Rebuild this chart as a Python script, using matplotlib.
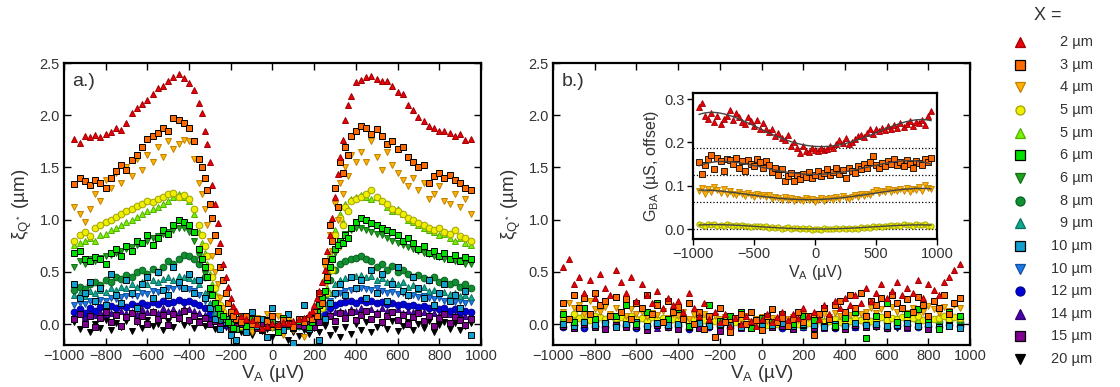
import numpy as np
import matplotlib
matplotlib.use("Agg")
import matplotlib.pyplot as plt

plt.rcParams['font.family'] = ['Liberation Sans', 'DejaVu Sans']
plt.rcParams['mathtext.fontset'] = 'custom'
plt.rcParams['mathtext.rm'] = 'Liberation Sans'
plt.rcParams['mathtext.it'] = 'Liberation Sans'
plt.rcParams['mathtext.default'] = 'regular'

# bias grid (uV)
va = np.arange(-950, 951, 25)
vb = np.arange(-950, 951, 50)
# extra samples on the steep flanks of panel a
ve = [-337.5, -312.5, -287.5, -262.5, -237.5, -212.5, -187.5,
      187.5, 212.5, 237.5, 262.5, 287.5, 312.5, 337.5, 362.5]

labels = ['2 µm', '3 µm', '4 µm', '5 µm', '5 µm', '6 µm', '6 µm', '8 µm',
          '9 µm', '10 µm', '10 µm', '12 µm', '14 µm', '15 µm', '20 µm']

# ---- panel a: xi_Q* (um) vs V_A ----
a_2 = [1.77, 1.73, 1.80, 1.79, 1.81, 1.79, 1.82, 1.84, 1.88, 1.86, 1.93,
       2.02, 2.07, 2.11, 2.15, 2.20, 2.26, 2.28, 2.33, 2.37, 2.39, 2.36,
       2.31, 2.24, 2.12, 1.85, 1.55, 1.15, 0.78, 0.45, 0.25, 0.13, 0.08,
       0.05, 0.04, 0.00, -0.04, -0.02, 0.01, 0.00, 0.02, 0.01, 0.03, 0.05,
       0.06, 0.10, 0.18, 0.32, 0.52, 0.85, 1.22, 1.60, 1.95, 2.18, 2.32,
       2.34, 2.37, 2.38, 2.35, 2.33, 2.33, 2.28, 2.22, 2.20, 2.10, 2.05,
       1.98, 1.94, 1.90, 1.88, 1.85, 1.85, 1.83, 1.80, 1.82, 1.76, 1.77]
a_3 = [1.34, 1.40, 1.37, 1.33, 1.38, 1.35, 1.30, 1.40, 1.47, 1.52, 1.48,
       1.57, 1.62, 1.70, 1.77, 1.80, 1.83, 1.88, 1.85, 1.97, 1.95, 1.93,
       1.88, 1.75, 1.58, 1.40, 1.15, 0.85, 0.55, 0.30, 0.12, 0.05, 0.02,
       0.08, 0.00, 0.05, -0.05, 0.03, 0.08, -0.02, 0.04, 0.00, -0.03, 0.05,
       0.02, 0.06, 0.12, 0.30, 0.60, 0.95, 1.30, 1.55, 1.70, 1.80, 1.85,
       1.90, 1.88, 1.82, 1.87, 1.80, 1.72, 1.75, 1.68, 1.70, 1.60, 1.55,
       1.50, 1.52, 1.35, 1.42, 1.45, 1.40, 1.43, 1.38, 1.35, 1.30, 1.28]
a_4 = [1.12, 1.05, 0.98, 1.10, 1.25, 1.18, 1.38, 1.30, 1.45, 1.35, 1.50,
       1.42, 1.58, 1.48, 1.62, 1.55, 1.70, 1.60, 1.75, 1.68, 1.72, 1.76,
       1.75, 1.58, 1.35, 1.10, 0.80, 0.50, 0.25, 0.08, 0.00, -0.05, 0.05,
       0.02, -0.08, 0.06, 0.00, 0.10, -0.04, 0.08, -0.10, 0.05, -0.06, 0.02,
       -0.12, 0.05, 0.10, 0.25, 0.55, 0.85, 1.15, 1.35, 1.50, 1.62, 1.55,
       1.65, 1.55, 1.75, 1.60, 1.48, 1.65, 1.52, 1.45, 1.38, 1.32, 1.40,
       1.28, 1.35, 1.20, 1.25, 1.32, 1.18, 1.15, 1.25, 1.12, 1.20, 1.05]
a_5c = [0.80, 0.85, 0.88, 0.84, 0.92, 0.95, 0.98, 1.00, 1.03, 1.05, 1.08,
        1.10, 1.13, 1.15, 1.18, 1.17, 1.20, 1.22, 1.25, 1.26, 1.22, 1.24,
        1.20, 1.10, 0.95, 0.75, 0.55, 0.35, 0.18, 0.08, 0.02, 0.00, -0.02,
        -0.03, 0.00, 0.02, -0.04, 0.01, 0.03, -0.02, 0.00, 0.04, -0.01, 0.02,
        0.00, 0.04, 0.10, 0.22, 0.40, 0.62, 0.85, 1.02, 1.12, 1.18, 1.20,
        1.22, 1.25, 1.28, 1.22, 1.18, 1.15, 1.10, 1.08, 1.05, 1.02, 1.00,
        0.97, 0.95, 0.92, 0.90, 0.92, 0.88, 0.86, 0.90, 0.84, 0.82, 0.80]
a_5t = [0.76, 0.78, 0.80, 0.82, 0.80, 0.85, 0.86, 0.90, 0.92, 0.95, 0.98,
        1.00, 1.03, 1.05, 1.08, 1.10, 1.12, 1.15, 1.18, 1.22, 1.25, 1.22,
        1.18, 1.05, 0.88, 0.68, 0.48, 0.30, 0.15, 0.06, 0.00, -0.03, -0.02,
        -0.04, -0.02, 0.00, -0.03, 0.02, 0.00, -0.02, 0.01, 0.00, 0.02, 0.00,
        0.02, 0.05, 0.12, 0.25, 0.45, 0.68, 0.90, 1.05, 1.15, 1.20, 1.22,
        1.24, 1.22, 1.20, 1.22, 1.18, 1.12, 1.08, 1.10, 1.05, 1.00, 0.98,
        0.95, 0.92, 0.90, 0.88, 0.85, 0.86, 0.82, 0.80, 0.82, 0.78, 0.76]
a_6s = [0.68, 0.70, 0.62, 0.60, 0.64, 0.62, 0.58, 0.68, 0.72, 0.65, 0.75,
        0.70, 0.80, 0.78, 0.85, 0.76, 0.82, 0.90, 0.86, 0.95, 1.00, 0.98,
        0.95, 0.88, 0.72, 0.55, 0.35, 0.20, 0.10, 0.05, 0.00, -0.05, 0.08,
        -0.02, 0.05, 0.00, -0.06, 0.04, 0.02, -0.08, 0.06, 0.00, -0.04, 0.03,
        0.05, -0.03, 0.08, 0.18, 0.32, 0.55, 0.72, 0.80, 0.85, 0.92, 0.98,
        1.02, 1.00, 0.97, 0.95, 0.92, 0.90, 0.88, 0.85, 0.80, 0.82, 0.78,
        0.72, 0.75, 0.68, 0.70, 0.65, 0.68, 0.62, 0.66, 0.60, 0.64, 0.62]
a_6t = [0.55, 0.60, 0.58, 0.62, 0.60, 0.63, 0.65, 0.66, 0.68, 0.70, 0.72,
        0.74, 0.76, 0.78, 0.80, 0.82, 0.84, 0.86, 0.88, 0.90, 0.92, 0.92,
        0.88, 0.80, 0.65, 0.48, 0.30, 0.16, 0.07, 0.02, -0.02, -0.04, -0.03,
        -0.05, -0.03, -0.04, -0.02, -0.03, 0.00, -0.02, -0.04, -0.02, -0.03, -0.01,
        0.00, 0.02, 0.06, 0.15, 0.30, 0.50, 0.68, 0.80, 0.86, 0.90, 0.92,
        0.92, 0.90, 0.88, 0.86, 0.85, 0.82, 0.80, 0.78, 0.76, 0.74, 0.72,
        0.70, 0.68, 0.67, 0.65, 0.64, 0.62, 0.62, 0.60, 0.61, 0.58, 0.58]
a_8 = [0.33, 0.36, 0.34, 0.38, 0.40, 0.37, 0.42, 0.40, 0.45, 0.43, 0.47,
       0.45, 0.50, 0.52, 0.48, 0.53, 0.50, 0.55, 0.60, 0.58, 0.62, 0.66,
       0.65, 0.62, 0.58, 0.45, 0.32, 0.20, 0.10, 0.05, 0.00, -0.03, -0.02,
       -0.04, -0.02, 0.00, -0.03, -0.01, 0.00, -0.02, -0.01, 0.01, -0.02, 0.00,
       0.00, 0.03, 0.06, 0.15, 0.28, 0.42, 0.52, 0.58, 0.60, 0.62, 0.63,
       0.65, 0.62, 0.60, 0.55, 0.58, 0.52, 0.56, 0.50, 0.52, 0.48, 0.45,
       0.47, 0.44, 0.42, 0.45, 0.40, 0.42, 0.38, 0.40, 0.36, 0.38, 0.35]
a_9 = [0.28, 0.30, 0.27, 0.32, 0.30, 0.33, 0.31, 0.35, 0.33, 0.36, 0.35,
       0.38, 0.36, 0.40, 0.38, 0.42, 0.40, 0.43, 0.45, 0.42, 0.46, 0.45,
       0.44, 0.42, 0.38, 0.30, 0.20, 0.12, 0.06, 0.02, -0.02, -0.04, -0.03,
       -0.04, -0.03, -0.02, -0.04, -0.02, -0.03, -0.01, -0.03, -0.02, -0.01, -0.02,
       0.00, 0.02, 0.05, 0.10, 0.20, 0.30, 0.38, 0.42, 0.44, 0.45, 0.46,
       0.47, 0.45, 0.46, 0.42, 0.44, 0.40, 0.42, 0.38, 0.40, 0.36, 0.37,
       0.34, 0.36, 0.32, 0.33, 0.30, 0.31, 0.29, 0.30, 0.27, 0.28, 0.26]
a_10s = [0.38, 0.25, 0.30, 0.40, 0.22, 0.35, 0.18, 0.48, 0.28, 0.20, 0.42,
         0.30, 0.15, 0.38, 0.45, 0.25, 0.50, 0.33, 0.28, 0.55, 0.40, 0.35,
         0.48, 0.30, 0.42, 0.25, 0.15, 0.05, -0.05, 0.02, -0.10, -0.15, 0.08,
         -0.08, 0.12, -0.02, 0.05, -0.12, 0.15, 0.00, -0.06, 0.10, -0.18, 0.04,
         0.18, -0.05, 0.12, -0.15, 0.05, 0.20, 0.30, 0.38, 0.28, 0.45, 0.35,
         0.42, 0.25, 0.52, 0.30, 0.48, 0.22, 0.38, 0.55, 0.32, 0.28, 0.45,
         0.35, 0.25, 0.42, 0.18, 0.30, 0.38, 0.22, 0.28, 0.15, 0.32, -0.10]
a_10t = [0.18, 0.20, 0.19, 0.22, 0.21, 0.23, 0.22, 0.25, 0.24, 0.26, 0.27,
         0.28, 0.27, 0.30, 0.29, 0.32, 0.31, 0.33, 0.35, 0.34, 0.36, 0.35,
         0.34, 0.32, 0.28, 0.22, 0.15, 0.08, 0.03, 0.00, -0.02, -0.03, -0.02,
         -0.03, -0.02, -0.03, -0.02, -0.01, -0.03, -0.02, -0.01, -0.02, -0.03, -0.01,
         0.00, 0.02, 0.04, 0.08, 0.15, 0.22, 0.28, 0.30, 0.32, 0.33, 0.34,
         0.35, 0.34, 0.33, 0.35, 0.32, 0.30, 0.31, 0.29, 0.30, 0.27, 0.28,
         0.26, 0.27, 0.25, 0.24, 0.25, 0.22, 0.23, 0.21, 0.22, 0.20, 0.21]
a_12 = [0.12, 0.14, 0.11, 0.15, 0.13, 0.16, 0.14, 0.17, 0.15, 0.18, 0.16,
        0.19, 0.17, 0.20, 0.18, 0.21, 0.19, 0.22, 0.20, 0.21, 0.23, 0.21,
        0.22, 0.20, 0.18, 0.15, 0.10, 0.05, 0.02, 0.00, -0.02, -0.03, -0.02,
        -0.03, -0.02, -0.03, -0.02, -0.01, -0.02, -0.03, -0.02, -0.01, -0.02, -0.02,
        -0.01, 0.00, 0.03, 0.06, 0.10, 0.15, 0.18, 0.20, 0.21, 0.22, 0.20,
        0.23, 0.21, 0.22, 0.20, 0.21, 0.19, 0.20, 0.18, 0.19, 0.17, 0.18,
        0.16, 0.17, 0.15, 0.16, 0.14, 0.15, 0.13, 0.14, 0.12, 0.13, 0.12]
a_14 = [0.08, 0.10, 0.07, 0.11, 0.09, 0.12, 0.10, 0.11, 0.09, 0.13, 0.11,
        0.12, 0.10, 0.14, 0.12, 0.13, 0.11, 0.15, 0.13, 0.14, 0.12, 0.15,
        0.14, 0.13, 0.11, 0.09, 0.06, 0.03, 0.01, -0.01, -0.02, -0.03, -0.02,
        -0.03, -0.02, -0.03, -0.01, -0.02, -0.03, -0.02, -0.01, -0.02, -0.03, -0.02,
        -0.01, 0.00, 0.02, 0.04, 0.07, 0.10, 0.12, 0.13, 0.12, 0.14, 0.13,
        0.15, 0.13, 0.14, 0.12, 0.15, 0.13, 0.12, 0.14, 0.11, 0.13, 0.12,
        0.11, 0.12, 0.10, 0.11, 0.09, 0.12, 0.10, 0.09, 0.11, 0.08, 0.10]
a_15 = [0.05, 0.10, 0.00, 0.08, -0.03, 0.06, 0.12, 0.02, 0.09, -0.02, 0.07,
        0.11, 0.03, 0.08, 0.00, 0.12, 0.05, 0.09, -0.01, 0.10, 0.06, 0.13,
        0.04, 0.08, 0.02, 0.06, 0.00, 0.03, -0.02, 0.01, -0.04, -0.02, 0.00,
        -0.03, 0.01, -0.04, -0.01, -0.03, 0.00, -0.02, -0.04, 0.01, -0.03, -0.01,
        -0.02, 0.01, -0.03, 0.02, 0.05, 0.08, 0.03, 0.11, 0.06, 0.12, 0.04,
        0.09, 0.13, 0.05, 0.10, 0.02, 0.08, 0.12, 0.04, 0.09, 0.00, 0.07,
        0.11, 0.03, 0.08, -0.02, 0.06, 0.10, 0.01, 0.07, 0.04, -0.01, 0.05]
a_20 = [0.02, -0.05, 0.03, -0.08, 0.00, -0.04, 0.04, -0.06, 0.01, -0.03, 0.03,
        -0.07, 0.02, -0.04, 0.04, -0.02, 0.00, -0.06, 0.03, -0.03, 0.05, -0.01,
        0.02, -0.04, 0.03, -0.02, 0.01, -0.05, 0.00, -0.03, -0.06, -0.02, -0.08,
        -0.04, -0.10, -0.03, -0.07, -0.05, -0.12, -0.06, -0.09, -0.15, -0.08, -0.11,
        -0.06, -0.09, -0.04, -0.08, -0.02, -0.10, -0.05, -0.12, -0.03, -0.09, 0.00,
        -0.06, 0.02, -0.08, -0.03, 0.01, -0.05, 0.03, -0.07, -0.02, 0.02, -0.06,
        0.00, -0.04, 0.03, -0.08, -0.01, 0.02, -0.05, 0.01, -0.06, -0.02, 0.01]

# flank samples (at ve) for the upper curves of panel a
e_2 = [2.02, 1.72, 1.33, 0.97, 0.58, 0.36, 0.17, 0.13, 0.25, 0.40, 0.70, 1.02, 1.44, 1.76, 2.10]
e_3 = [1.50, 1.28, 1.02, 0.70, 0.42, 0.20, 0.08, 0.05, 0.08, 0.20, 0.45, 0.80, 1.12, 1.45, 1.62]
e_4 = [1.25, 0.95, 0.65, 0.38, 0.15, 0.04, -0.02, 0.00, 0.06, 0.18, 0.40, 0.70, 1.00, 1.25, 1.42]
e_5c = [0.85, 0.65, 0.45, 0.26, 0.12, 0.04, 0.01, 0.02, 0.06, 0.15, 0.30, 0.52, 0.74, 0.95, 1.08]
e_5t = [0.78, 0.58, 0.38, 0.22, 0.10, 0.03, -0.01, 0.03, 0.08, 0.18, 0.35, 0.56, 0.80, 0.98, 1.10]
e_6s = [0.62, 0.45, 0.28, 0.15, 0.08, 0.02, -0.04, 0.02, 0.12, 0.25, 0.42, 0.62, 0.76, 0.78, 0.82]

# ---- panel b ----
b_2 = [0.55, 0.62, 0.38, 0.45, 0.30, 0.42, 0.25, 0.48, 0.35, 0.28, 0.52,
       0.40, 0.30, 0.45, 0.22, 0.38, 0.28, 0.20, 0.32, 0.15, 0.25, 0.18,
       0.22, 0.12, 0.30, 0.15, 0.08, 0.20, 0.05, 0.12, 0.02, 0.10, -0.02,
       0.06, 0.00, 0.08, 0.03, -0.02, 0.05, 0.10, 0.02, 0.07, 0.12, 0.04,
       0.10, 0.06, 0.15, 0.08, 0.12, 0.05, 0.18, 0.10, 0.22, 0.15, 0.25,
       0.18, 0.28, 0.20, 0.35, 0.22, 0.30, 0.38, 0.25, 0.32, 0.40, 0.28,
       0.35, 0.30, 0.42, 0.25, 0.38, 0.33, 0.28, 0.40, 0.45, 0.52, 0.58]
b_3 = [0.20, 0.05, 0.28, 0.15, 0.25, 0.10, 0.30, 0.18, 0.22, 0.08, 0.26,
       0.12, 0.24, 0.05, 0.20, 0.15, 0.28, 0.10, 0.18, 0.02, 0.22, 0.12,
       0.16, 0.05, 0.20, 0.00, 0.12, -0.05, 0.08, -0.12, 0.15, 0.02, -0.08,
       0.06, 0.10, 0.00, 0.12, 0.04, -0.06, 0.08, 0.14, 0.02, 0.06, -0.02,
       0.05, 0.12, 0.02, 0.08, -0.10, 0.10, 0.15, 0.05, 0.18, 0.22, 0.12,
       0.28, 0.15, 0.30, 0.08, 0.22, 0.18, 0.25, 0.10, 0.28, 0.20, 0.15,
       0.24, 0.12, 0.26, 0.18, 0.08, 0.22, 0.15, 0.28, 0.10, 0.20, 0.25]
b_4 = [0.12, 0.20, 0.15, 0.18, 0.10, 0.22, 0.14, 0.12, 0.16, 0.10, 0.15,
       0.12, 0.08, 0.14, 0.10, 0.12, 0.07, 0.11, 0.09, 0.13, 0.06, 0.10,
       0.08, 0.12, 0.05, 0.09, 0.06, 0.10, 0.04, 0.08, 0.05, 0.07, 0.03,
       0.06, 0.04, 0.08, 0.02, 0.05, 0.07, 0.03, 0.06, 0.04, 0.08, 0.05,
       0.07, 0.04, 0.09, 0.06, 0.08, 0.05, 0.10, 0.07, 0.11, 0.08, 0.12,
       0.09, 0.13, 0.10, 0.12, 0.15, 0.11, 0.14, 0.10, 0.16, 0.12, 0.14,
       0.11, 0.15, 0.13, 0.12, 0.17, 0.14, 0.11, 0.16, 0.13, 0.18, 0.15]
b_5c = [0.08, 0.05, 0.10, 0.06, 0.09, 0.04, 0.08, 0.07, 0.05, 0.09, 0.06,
        0.07, 0.04, 0.08, 0.05, 0.06, 0.03, 0.07, 0.04, 0.06, 0.02, 0.05,
        0.04, 0.06, 0.02, 0.05, 0.03, 0.04, 0.01, 0.03, 0.02, 0.04, 0.00,
        0.02, 0.03, 0.00, 0.02, 0.01, 0.03, -0.01, 0.02, 0.00, 0.03, 0.01,
        0.02, 0.00, 0.03, 0.01, 0.02, 0.04, 0.02, 0.03, 0.05, 0.02, 0.04,
        0.03, 0.05, 0.04, 0.06, 0.03, 0.05, 0.07, 0.04, 0.06, 0.05, 0.07,
        0.05, 0.06, 0.08, 0.04, 0.07, 0.05, 0.06, 0.08, 0.05, 0.07, 0.06]
b_5t = [0.06, 0.08, 0.05, 0.07, 0.04, 0.06, 0.05, 0.07, 0.03, 0.05,
        0.04, 0.06, 0.03, 0.04, 0.02, 0.03, 0.01, 0.02, 0.00, 0.02,
        0.01, 0.02, 0.03, 0.01, 0.03, 0.04, 0.02, 0.04, 0.05, 0.03,
        0.05, 0.04, 0.06, 0.05, 0.04, 0.06, 0.05, 0.07, 0.06]
b_6s = [0.10, 0.02, 0.15, 0.05, 0.22, 0.08, 0.18, 0.00, 0.12, 0.20,
        0.05, 0.14, -0.02, 0.10, 0.18, 0.03, 0.08, 0.12, -0.04, 0.06,
        0.02, 0.10, 0.00, 0.08, 0.04, 0.15, -0.02, 0.06, 0.12, -0.13,
        0.08, 0.20, 0.02, 0.10, 0.14, 0.05, -0.05, 0.12, 0.08]
b_6t = [0.03, 0.05, 0.02, 0.04, 0.01, 0.03, 0.02, 0.04, 0.01, 0.03,
        0.02, 0.00, 0.03, 0.01, 0.02, 0.00, 0.01, -0.01, 0.01, 0.00,
        0.01, -0.01, 0.02, 0.00, 0.01, 0.02, 0.00, 0.02, 0.01, 0.03,
        0.02, 0.01, 0.03, 0.02, 0.04, 0.02, 0.03, 0.04, 0.02]
b_8 = [0.02, 0.04, 0.01, 0.03, 0.02, 0.04, 0.00, 0.02, 0.03, 0.01,
       0.02, 0.00, 0.01, 0.02, 0.00, 0.01, -0.01, 0.01, 0.00, -0.01,
       0.00, 0.01, -0.01, 0.01, 0.00, 0.02, 0.01, 0.00, 0.02, 0.01,
       0.03, 0.02, 0.01, 0.03, 0.02, 0.04, 0.02, 0.03, 0.02]
b_9 = [0.01, 0.00, 0.02, -0.01, 0.01, 0.00, 0.02, 0.00, -0.01, 0.01,
       0.00, -0.01, 0.01, 0.00, -0.02, 0.00, -0.01, 0.00, -0.02, -0.01,
       0.00, -0.01, 0.00, -0.02, 0.00, -0.01, 0.01, 0.00, -0.01, 0.00,
       0.01, 0.00, 0.02, -0.01, 0.00, 0.01, -0.01, 0.00, -0.02]
b_10s = [0.00, -0.02, 0.02, -0.01, 0.01, -0.03, 0.00, 0.02, -0.02, 0.01,
         -0.01, 0.00, -0.03, 0.01, -0.02, 0.00, -0.01, -0.03, 0.00, -0.02,
         -0.01, 0.01, -0.02, 0.00, -0.01, -0.03, 0.00, -0.02, 0.01, -0.01,
         0.00, -0.02, -0.01, 0.01, -0.02, 0.00, -0.03, -0.02, -0.04]
b_10t = [-0.01, 0.00, -0.02, -0.01, 0.00, -0.02, -0.01, -0.03, 0.00, -0.01,
         -0.02, -0.01, 0.00, -0.02, -0.01, -0.03, -0.01, -0.02, 0.00, -0.01,
         -0.02, -0.01, -0.03, -0.01, 0.00, -0.02, -0.01, -0.02, 0.00, -0.01,
         -0.02, 0.00, -0.01, -0.02, -0.01, -0.03, -0.01, -0.02, -0.03]
b_12 = [-0.03, -0.01, -0.04, -0.02, -0.03, -0.01, -0.02, -0.04, -0.02, -0.01,
        -0.03, -0.02, -0.05, -0.01, -0.03, -0.02, -0.04, -0.02, -0.01, -0.03,
        -0.02, -0.04, -0.01, -0.03, -0.02, -0.01, -0.04, -0.02, -0.03, -0.01,
        -0.02, -0.04, -0.02, -0.01, -0.03, -0.02, -0.03, -0.01, -0.02]
b_14 = [-0.02, -0.03, -0.01, -0.02, -0.04, -0.02, -0.01, -0.03, -0.02, -0.04,
        -0.01, -0.02, -0.03, -0.02, -0.01, -0.03, -0.02, -0.04, -0.02, -0.01,
        -0.03, -0.02, -0.01, -0.03, -0.02, -0.04, -0.02, -0.01, -0.03, -0.02,
        -0.01, -0.03, -0.02, -0.04, -0.02, -0.01, -0.03, -0.02, -0.02]
b_15 = [-0.02, -0.04, 0.00, -0.03, -0.05, -0.01, -0.03, -0.02, -0.06, -0.01,
        -0.03, -0.05, -0.02, -0.04, -0.01, -0.07, -0.03, -0.02, -0.04, -0.01,
        -0.03, -0.02, -0.05, -0.01, -0.04, -0.02, -0.03, -0.05, -0.01, -0.03,
        -0.02, -0.04, -0.01, -0.03, -0.02, -0.05, -0.03, -0.01, -0.03]
b_20 = [-0.02, -0.01, -0.03, -0.02, -0.04, -0.01, -0.02, -0.03, -0.01, -0.02,
        -0.03, -0.02, -0.01, -0.03, -0.02, -0.04, -0.02, -0.01, -0.03, -0.02,
        -0.02, -0.03, -0.01, -0.02, -0.04, -0.02, -0.01, -0.03, -0.02, -0.01,
        -0.03, -0.02, -0.04, -0.01, -0.02, -0.03, -0.02, -0.01, -0.03]

# ---- inset: G_BA (uS, offset) ----
g_2 = [0.282, 0.290, 0.262, 0.255, 0.268, 0.248, 0.262, 0.243, 0.255, 0.262, 0.275,
       0.252, 0.268, 0.258, 0.248, 0.242, 0.258, 0.250, 0.238, 0.252, 0.232, 0.245,
       0.232, 0.224, 0.230, 0.215, 0.222, 0.210, 0.205, 0.218, 0.192, 0.200, 0.188,
       0.175, 0.192, 0.180, 0.178, 0.186, 0.182, 0.180, 0.188, 0.182, 0.185, 0.192,
       0.188, 0.196, 0.205, 0.198, 0.210, 0.196, 0.202, 0.208, 0.214, 0.218, 0.212,
       0.222, 0.230, 0.220, 0.232, 0.226, 0.234, 0.228, 0.238, 0.232, 0.240, 0.234,
       0.244, 0.236, 0.242, 0.250, 0.238, 0.246, 0.244, 0.252, 0.240, 0.262, 0.272]
g_3 = [0.155, 0.128, 0.148, 0.162, 0.170, 0.138, 0.165, 0.158, 0.135, 0.162, 0.160,
       0.150, 0.165, 0.142, 0.158, 0.135, 0.160, 0.150, 0.145, 0.162, 0.155, 0.140,
       0.158, 0.148, 0.132, 0.140, 0.125, 0.138, 0.110, 0.122, 0.130, 0.112, 0.125,
       0.115, 0.128, 0.120, 0.132, 0.118, 0.125, 0.135, 0.122, 0.130, 0.138, 0.125,
       0.132, 0.140, 0.128, 0.136, 0.118, 0.142, 0.135, 0.130, 0.145, 0.138, 0.150,
       0.142, 0.155, 0.168, 0.148, 0.140, 0.152, 0.145, 0.158, 0.150, 0.162, 0.148,
       0.155, 0.145, 0.160, 0.150, 0.142, 0.158, 0.152, 0.148, 0.162, 0.155, 0.165]
g_4 = [0.088, 0.095, 0.082, 0.092, 0.086, 0.098, 0.090, 0.084, 0.092, 0.080, 0.088,
       0.082, 0.078, 0.086, 0.080, 0.076, 0.084, 0.078, 0.074, 0.080, 0.076, 0.079,
       0.074, 0.078, 0.070, 0.075, 0.072, 0.066, 0.074, 0.068, 0.072, 0.065, 0.070,
       0.068, 0.064, 0.072, 0.066, 0.070, 0.062, 0.068, 0.071, 0.065, 0.069, 0.072,
       0.068, 0.074, 0.070, 0.076, 0.072, 0.069, 0.075, 0.078, 0.073, 0.080, 0.076,
       0.082, 0.079, 0.085, 0.090, 0.084, 0.088, 0.086, 0.092, 0.085, 0.090, 0.087,
       0.092, 0.088, 0.095, 0.086, 0.093, 0.090, 0.098, 0.088, 0.102, 0.094, 0.092]
g_5 = [0.012, 0.010, 0.008, 0.011, 0.009, 0.012, 0.007, 0.010, 0.008, 0.011, 0.009,
       0.008, 0.010, 0.006, 0.009, 0.007, 0.008, 0.005, 0.007, 0.006, 0.008, 0.004,
       0.006, 0.003, 0.005, 0.002, 0.004, 0.001, 0.003, 0.004, 0.000, 0.002, 0.003,
       -0.001, 0.002, 0.000, 0.003, -0.002, 0.001, 0.000, -0.003, 0.002, -0.001, 0.001,
       0.000, 0.002, -0.001, 0.003, 0.001, 0.002, 0.000, 0.003, 0.001, 0.004, 0.002,
       0.005, 0.003, 0.006, 0.004, 0.007, 0.005, 0.008, 0.006, 0.009, 0.007, 0.010,
       0.008, 0.011, 0.009, 0.010, 0.008, 0.012, 0.009, 0.010, 0.011, 0.008, 0.007]
offsets = [0.0, 0.0625, 0.125, 0.1875]

# marker styles, same order as labels
markers = ['^', 's', 'v', 'o', '^', 's', 'v', 'o', '^', 's', 'v', 'o', '^', 's', 'v']
faces = ['#e8000b', '#ff6a00', '#ffb300', '#eeee00', '#7cf000', '#00e000', '#20a020',
         '#109030', '#10a890', '#10a0d0', '#1e78e6', '#0000d8', '#4a00a8', '#800090', '#000000']
edges = ['#a00000', '#000000', '#c08000', '#a0a000', '#50b000', '#000000', '#107010',
         '#086020', '#087060', '#000000', '#1050a0', '#000090', '#300070', '#000000', '#000000']

a_series = [a_2, a_3, a_4, a_5c, a_5t, a_6s, a_6t, a_8, a_9, a_10s, a_10t, a_12, a_14, a_15, a_20]
a_flanks = {0: e_2, 1: e_3, 2: e_4, 3: e_5c, 4: e_5t, 5: e_6s}
b_series = [(va, b_2), (va, b_3), (va, b_4), (va, b_5c), (vb, b_5t), (vb, b_6s), (vb, b_6t),
            (vb, b_8), (vb, b_9), (vb, b_10s), (vb, b_10t), (vb, b_12), (vb, b_14), (vb, b_15), (vb, b_20)]
g_series = [g_2, g_3, g_4, g_5]

txt = '#333333'
fig = plt.figure(figsize=(11.2, 3.87), dpi=100)
ax_a = fig.add_axes([0.0571, 0.1085, 0.3723, 0.7287])
ax_b = fig.add_axes([0.4938, 0.1085, 0.3723, 0.7287])

def zo(i):
    if i == 0:
        return 5
    return 4 if markers[i] == 's' else 3

for ax, panel in [(ax_a, 'a'), (ax_b, 'b')]:
    for i in range(14, -1, -1):
        sty = dict(ls='none', marker=markers[i], ms=4.8, mfc=faces[i],
                   mec=edges[i], mew=0.7, zorder=zo(i))
        if panel == 'a':
            ax.plot(va, a_series[i], **sty)
            if i in a_flanks:
                ax.plot(ve, a_flanks[i], **sty)
        else:
            x, y = b_series[i]
            ax.plot(x, y, **sty)
    ax.set_xlim(-1000, 1000)
    ax.set_ylim(-0.2, 2.5)
    ax.set_xticks(np.arange(-1000, 1001, 200))
    ax.set_yticks([0.0, 0.5, 1.0, 1.5, 2.0, 2.5])
    ax.tick_params(direction='in', top=True, right=True, length=5, width=1,
                   labelsize=10.5, labelcolor=txt, pad=3)
    for s in ax.spines.values():
        s.set_linewidth(1.6)
    ax.set_xlabel(r'V$_{A}$ (µV)', fontsize=13.5, color=txt, labelpad=0)
    ax.set_ylabel(r'$\xi_{Q^*}$ (µm)', fontsize=13.5, color=txt, labelpad=4)
    ax.text(0.02, 0.965, panel + '.)', transform=ax.transAxes, fontsize=14,
            color=txt, va='top', ha='left')

# inset
ax_i = fig.add_axes([0.6188, 0.3824, 0.2179, 0.3773])
for k in range(4):
    ax_i.axhline(offsets[k], color='k', ls=':', lw=0.9, zorder=1)
    ax_i.plot(va, g_series[k], ls='none', marker=markers[k], ms=3.8, mfc=faces[k],
              mec=edges[k], mew=0.6, zorder=3 + k % 2)
    fit = np.polyval(np.polyfit(va, g_series[k], 4), va)
    ax_i.plot(va, fit, color='#444444', lw=1.0, zorder=6)
ax_i.set_xlim(-1000, 1000)
ax_i.set_ylim(-0.023, 0.314)
ax_i.set_xticks([-1000, -500, 0, 500, 1000])
ax_i.set_yticks([0.0, 0.1, 0.2, 0.3])
ax_i.tick_params(direction='out', length=4, width=1, labelsize=10.5, labelcolor=txt, pad=2)
for s in ax_i.spines.values():
    s.set_linewidth(1.6)
ax_i.set_xlabel(r'V$_{A}$ (µV)', fontsize=11.5, color=txt, labelpad=1)
ax_i.set_ylabel(r'G$_{BA}$ (µS, offset)', fontsize=11.5, color=txt, labelpad=2)

# legend column
ax_l = fig.add_axes([0.88, 0.0, 0.12, 1.0])
ax_l.set_xlim(0, 134.4)
ax_l.set_ylim(387, 0)
ax_l.axis('off')
ax_l.text(62, 15, 'X =', fontsize=13, color=txt, ha='center', va='center')
for i in range(15):
    yy = 42 + 22.65 * i
    ax_l.plot([34], [yy], ls='none', marker=markers[i], ms=6.5, mfc=faces[i],
              mec=edges[i], mew=0.9)
    ax_l.text(107, yy, labels[i], fontsize=10.5, color=txt, ha='right', va='center')

fig.savefig('out.png', dpi=100)
